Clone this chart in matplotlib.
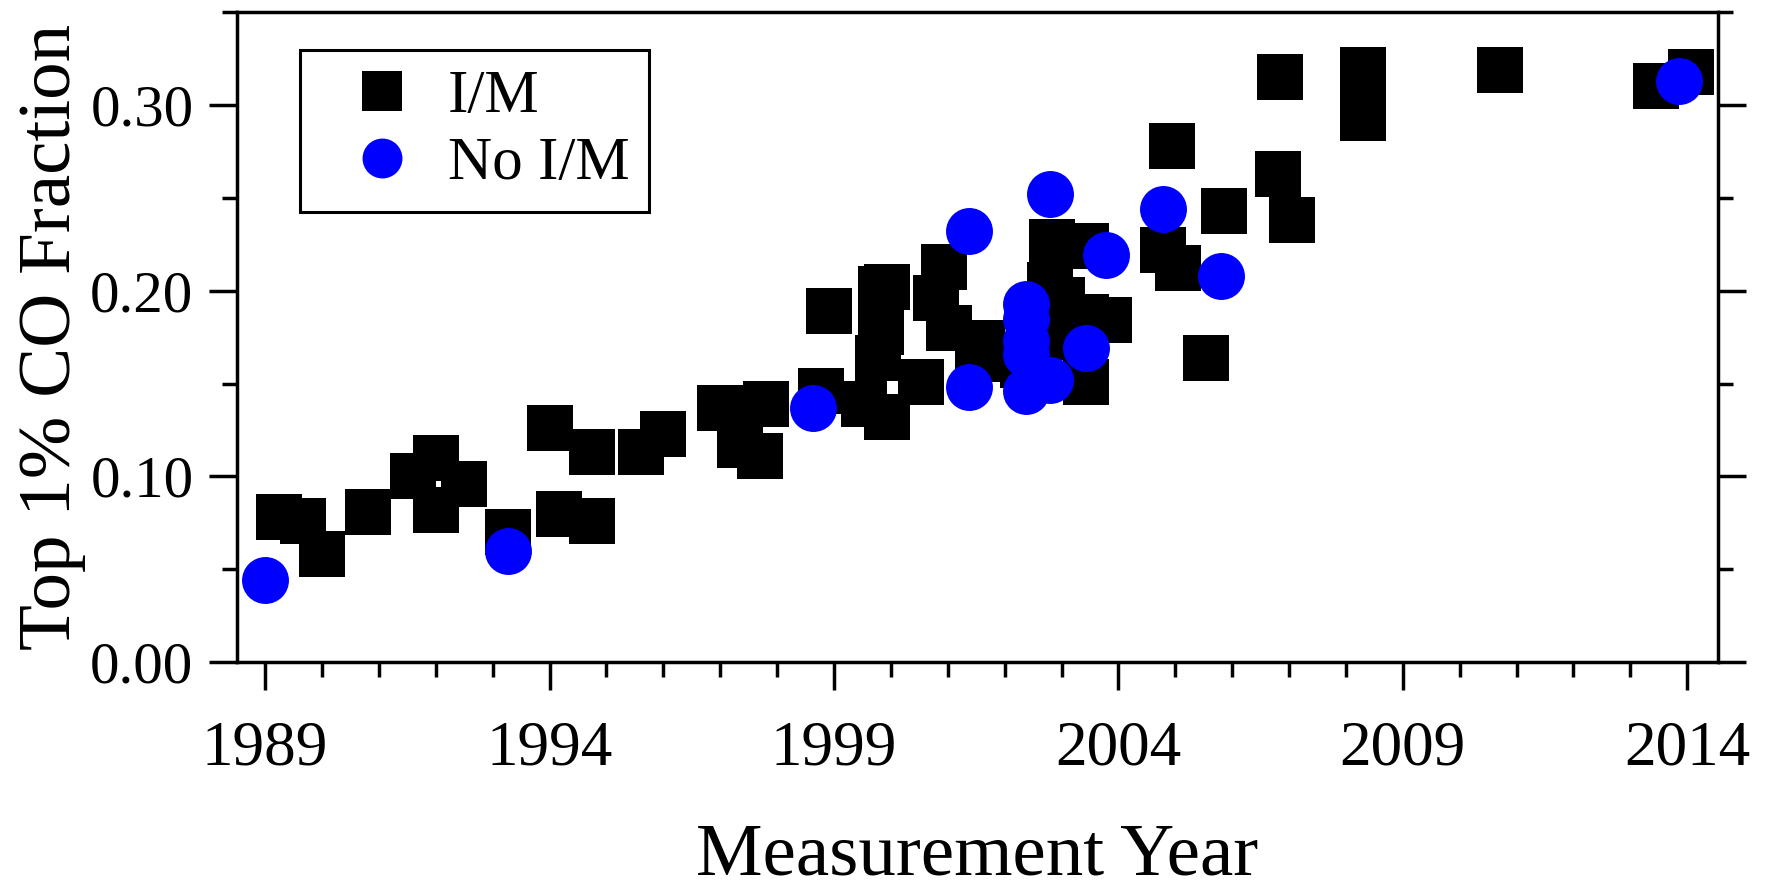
import matplotlib
matplotlib.use('Agg')
import matplotlib.pyplot as plt
from matplotlib.ticker import MultipleLocator

matplotlib.rcParams['font.family'] = 'serif'
matplotlib.rcParams['font.serif'] = ['Liberation Serif', 'DejaVu Serif']

# fleets with an inspection/maintenance programme
im_year = [1989.25, 1989.67, 1990.0, 1990.8, 1991.6, 1992.0, 1992.0, 1992.5,
           1993.27, 1994.0, 1994.17, 1994.75, 1994.75, 1995.6, 1996.0, 1997.0,
           1997.35, 1997.7, 1997.8, 1998.78, 1998.92, 1999.53, 1999.78, 1999.83,
           1999.83, 1999.93, 1999.93, 2000.53, 2000.79, 2000.93, 2001.03, 2001.53,
           2001.6, 2002.33, 2002.79, 2002.84, 2002.9, 2003.0, 2003.43, 2003.43,
           2003.43, 2003.84, 2004.79, 2004.94, 2005.04, 2005.54, 2005.85, 2006.8,
           2006.84, 2007.05, 2008.3, 2008.3, 2008.3, 2010.71, 2013.45, 2014.06]
im_frac = [0.078, 0.076, 0.058, 0.081, 0.100, 0.110, 0.082, 0.096,
           0.070, 0.126, 0.080, 0.113, 0.076, 0.113, 0.123, 0.137,
           0.117, 0.111, 0.139, 0.146, 0.189, 0.139, 0.164, 0.201,
           0.178, 0.202, 0.132, 0.151, 0.196, 0.213, 0.180, 0.163,
           0.172, 0.160, 0.203, 0.226, 0.175, 0.195, 0.224, 0.186,
           0.151, 0.184, 0.222, 0.278, 0.212, 0.164, 0.243, 0.263,
           0.315, 0.238, 0.319, 0.306, 0.293, 0.319, 0.310, 0.318]

# fleets without one
noim_year = [1989.0, 1993.27, 1998.63, 2001.37, 2001.37, 2002.37, 2002.37,
             2002.37, 2002.37, 2002.37, 2002.79, 2002.79, 2003.43, 2003.79,
             2004.79, 2005.8, 2013.86]
noim_frac = [0.044, 0.060, 0.137, 0.148, 0.232, 0.193, 0.185,
             0.173, 0.166, 0.146, 0.252, 0.152, 0.169, 0.219,
             0.244, 0.208, 0.313]

year_ticks = [1989, 1994, 1999, 2004, 2009, 2014]
frac_ticks = [0.00, 0.10, 0.20, 0.30]

msize = 33.8
lw = 2.5

fig = plt.figure(figsize=(17.72, 8.92), dpi=100)
ax = fig.add_axes([0.1336, 0.2576, 0.9695 - 0.1336, 0.9864 - 0.2576])

ax.plot(im_year, im_frac, ls='none', marker='s', ms=msize, mfc='black',
        mec='black', mew=0, label='I/M')
ax.plot(noim_year, noim_frac, ls='none', marker='o', ms=msize, mfc='#0000FF',
        mec='#0000FF', mew=0, label='No I/M')

ax.set_xlim(1988.5, 2014.54)
ax.set_ylim(0.0, 0.35)

ax.set_xticks(year_ticks)
ax.set_yticks(frac_ticks)
ax.set_yticklabels(['%.2f' % v for v in frac_ticks])
ax.xaxis.set_minor_locator(MultipleLocator(1))
ax.yaxis.set_minor_locator(MultipleLocator(0.05))

ax.tick_params(axis='both', which='both', direction='out', width=lw,
               color='black')
ax.tick_params(axis='both', which='major', length=20.2)
ax.tick_params(axis='both', which='minor', length=10.5)
ax.tick_params(axis='x', which='major', labelsize=45.5, pad=22)
ax.tick_params(axis='y', which='major', labelsize=42.5, pad=11)
ax.tick_params(axis='y', which='both', right=True)
ax.tick_params(axis='x', which='both', top=False)

for s in ax.spines.values():
    s.set_linewidth(lw)

ax.set_xlabel('Measurement Year', fontsize=54, labelpad=32)
ax.set_ylabel('Top 1% CO Fraction', fontsize=54, labelpad=3)

leg = ax.legend(loc='upper left', bbox_to_anchor=(0.0425, 0.9417),
                borderaxespad=0, fontsize=44, markerscale=0.85,
                borderpad=0.32, labelspacing=0.18, handlelength=2.05,
                handletextpad=0.05, fancybox=False, framealpha=1,
                edgecolor='black')
leg.get_frame().set_linewidth(2.2)

fig.savefig('out.png', dpi=100)
